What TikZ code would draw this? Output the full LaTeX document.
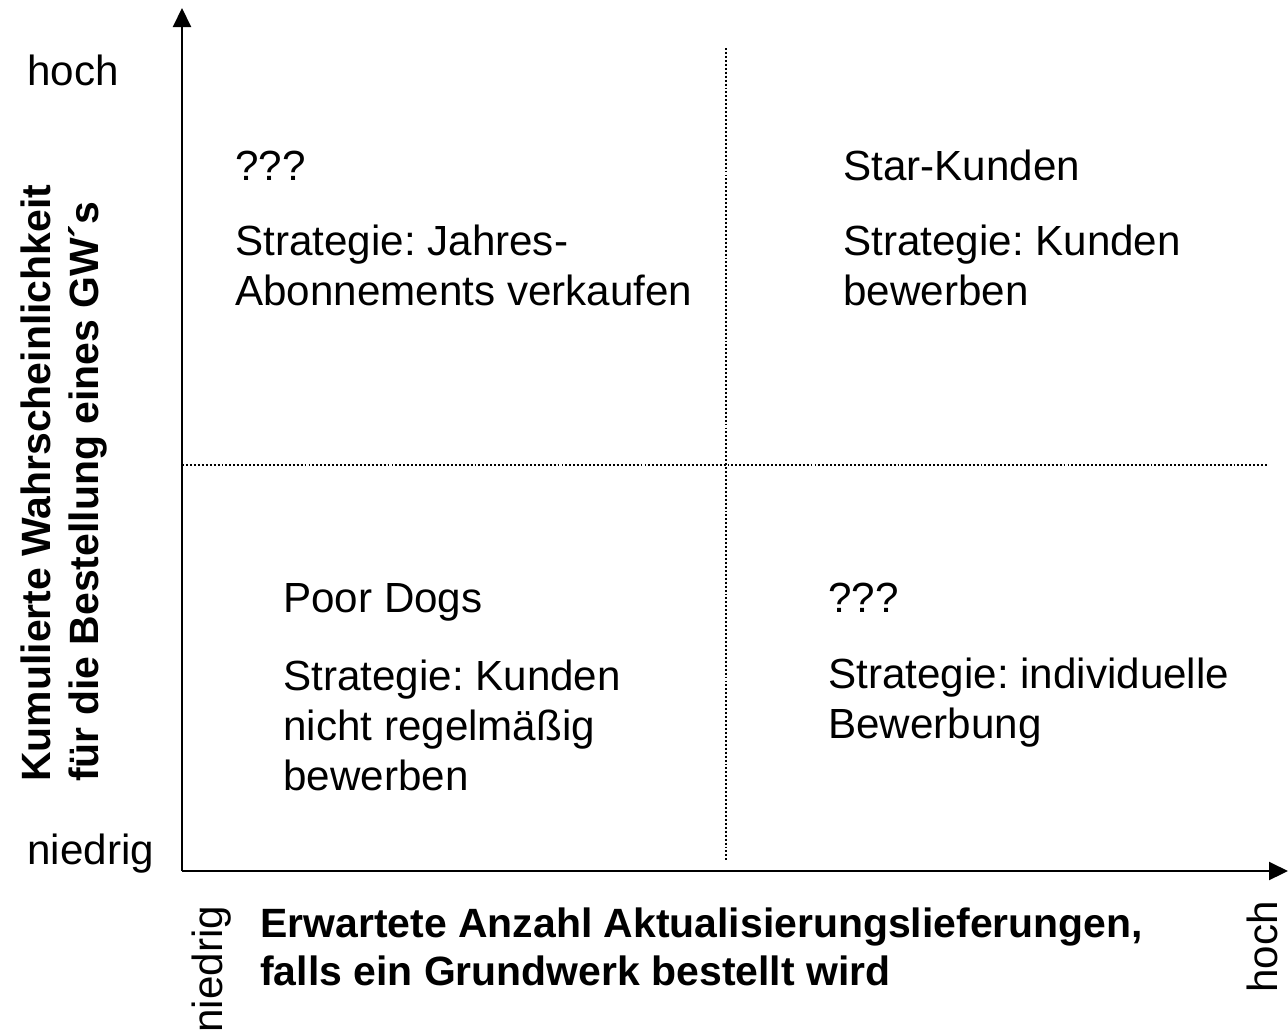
\documentclass[tikz,border=0pt]{standalone}
\usepackage{fontspec}
\setmainfont{Liberation Sans}
\usetikzlibrary{arrows.meta}
\frenchspacing

\begin{document}
\begin{tikzpicture}[
	x=0.02cm, y=-0.02cm,
	quad/.style={anchor=base west, inner sep=0pt, align=left, font=\fontsize{24}{28.45}\selectfont},
	axislbl/.style={anchor=base west, inner sep=0pt, align=left, font=\bfseries\fontsize{23.3}{27.3}\selectfont},
	split/.style={line width=1.1pt, dash pattern=on 1.1pt off 1.15pt},
	axis/.style={line width=1.2pt, -{Triangle[length=0.38cm, width=0.36cm]}}
	]
	
	\useasboundingbox (0,0) rectangle (1288,1032);
	
	% corners of the portfolio
	\coordinate (origin) at (182,871);
	\coordinate (ytip) at (182,8);
	\coordinate (xtip) at (1288,871);
	\coordinate (vtop) at (726,48);
	\coordinate (vbot) at (726,862);
	\coordinate (hleft) at (182,465);
	\coordinate (hright) at (1268,465);
	
	% quadrant borders
	\draw [split] (vtop) -- (vbot);
	\draw [split] (hleft) -- (hright);
	
	% axes
	\draw [axis] (origin) -- (ytip);
	\draw [axis] (origin) -- (xtip);
	
	% scale ends
	\node (yhigh) [quad] at (27,85) {hoch};
	\node (ylow) [quad] at (27,864) {niedrig};
	\node (xlow) [quad, rotate=90] at (222,1033) {niedrig};
	\node (xhigh) [quad, rotate=90] at (1277,993) {hoch};
	
	% axis titles (base = last line)
	\node (ytitle) [axislbl, rotate=90] at (98,782) {Kumulierte Wahrscheinlichkeit\\für die Bestellung eines GW´s};
	\node (xtitle) [axislbl] at (260,985) {Erwartete Anzahl Aktualisierungslieferungen,\\falls ein Grundwerk bestellt wird};
	
	% top left
	\node (tlname) [quad] at (235,180) {???};
	\node (tlstrat) [quad] at (235,305) {Strategie: Jahres-\\Abonnements verkaufen};
	% top right
	\node (trname) [quad] at (843,180) {Star-Kunden};
	\node (trstrat) [quad] at (843,305) {Strategie: Kunden\\bewerben};
	% bottom left
	\node (blname) [quad] at (283,612) {Poor Dogs};
	\node (blstrat) [quad] at (283,790) {Strategie: Kunden\\nicht regelmäßig\\bewerben};
	% bottom right
	\node (brname) [quad] at (828,612) {???};
	\node (brstrat) [quad] at (828,738) {Strategie: individuelle\\Bewerbung};
	
\end{tikzpicture}
\end{document}
